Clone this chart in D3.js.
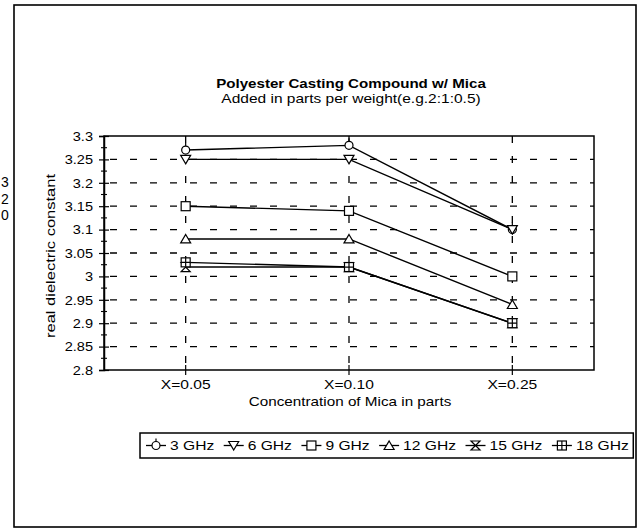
<!DOCTYPE html>
<html><head><meta charset="utf-8">
<script src="https://cdn.jsdelivr.net/npm/d3@7"></script>
<style>
body{margin:0;background:#fff;}
svg{display:block;}
text{font-family:"Liberation Sans",Arial,sans-serif;fill:#000;}
</style></head>
<body>
<svg id="c" width="644" height="532"></svg>
<script>
const categories = ["X=0.05","X=0.10","X=0.25"];
const seriesNames = ["3 GHz","6 GHz","9 GHz","12 GHz","15 GHz","18 GHz"];
const v3  = [3.27, 3.28, 3.10];
const v6  = [3.25, 3.25, 3.10];
const v9  = [3.15, 3.14, 3.00];
const v12 = [3.08, 3.08, 2.94];
const v15 = [3.02, 3.02, 2.90];
const v18 = [3.03, 3.02, 2.90];
const yTicks = [2.8,2.85,2.9,2.95,3,3.05,3.1,3.15,3.2,3.25,3.3];
const symbols = ["circle","triDown","square","triUp","bowtie","crossSquare"];
const title = "Polyester Casting Compound w/ Mica";
const subtitle = "Added in parts per weight(e.g.2:1:0.5)";
const xTitle = "Concentration of Mica in parts";
const yTitle = "real dielectric constant";
const edgeText = ["3","2","0"];

const series = [v3,v6,v9,v12,v15,v18].map((vals,i)=>({name:seriesNames[i],sym:symbols[i],vals}));

const svg = d3.select("#c");

function txt(g, x, y, s, size, anchor, sx, weight){
  const t = g.append("text")
    .attr("transform",`translate(${x},${y}) scale(${sx},1)`)
    .attr("font-size",size).attr("text-anchor",anchor||"start")
    .text(s);
  if(weight) t.attr("font-weight",weight);
  return t;
}

// outer frame
svg.append("rect").attr("x",14).attr("y",5).attr("width",622).attr("height",522)
  .attr("fill","none").attr("stroke","#000").attr("stroke-width",1.6);

// left edge characters (from the scanned page)
edgeText.forEach((d,i)=>{
  svg.append("text").attr("x",1).attr("y",187+i*16.5).attr("font-size",14).text(d);
});

const L=104, R=594, T=136, B=370;
const x = d3.scaleBand().domain(categories).range([L,R]).padding(0);
const xc = d => x(d)+x.bandwidth()/2;
const y = d3.scaleLinear().domain([2.8,3.3]).range([B,T]);

// titles
txt(svg, 351, 88, title, 12.2, "middle", 1.24, "bold");
txt(svg, 351, 103, subtitle, 12.5, "middle", 1.24);

// gridlines
const grid = svg.append("g");
grid.selectAll("line.h").data(yTicks.filter(d=>d>2.8+1e-9 && d<3.3-1e-9)).join("line")
  .attr("x1",L).attr("x2",R).attr("y1",d=>y(d)).attr("y2",d=>y(d))
  .attr("stroke","#000").attr("stroke-width",1.3).attr("stroke-dasharray","7,13").attr("stroke-dashoffset",-6);
grid.selectAll("line.v").data(categories).join("line")
  .attr("x1",d=>xc(d)).attr("x2",d=>xc(d)).attr("y1",T).attr("y2",B)
  .attr("stroke","#000").attr("stroke-width",1.3).attr("stroke-dasharray","7,13");

// plot box
svg.append("rect").attr("x",L).attr("y",T).attr("width",R-L).attr("height",B-T)
  .attr("fill","none").attr("stroke","#000").attr("stroke-width",1.5);

// y axis
const yAxis = d3.axisLeft(y).tickValues(yTicks).tickSize(5).tickFormat(d3.format("~g"));
const ya = svg.append("g").attr("transform",`translate(${L},0)`).call(yAxis);
ya.select(".domain").attr("stroke-width",1.5);
ya.selectAll(".tick line").attr("x2",-5).attr("x1",5).attr("stroke-width",1.2);
ya.selectAll(".tick text").remove();
yTicks.forEach(t=>txt(svg, L-11, y(t)+4.8, d3.format("~g")(t), 13, "end", 1.12));
// minor ticks
const minor = d3.range(0,20).map(i=>2.8+0.025*(2*i+1)).filter(v=>v<3.3);
svg.append("g").selectAll("line").data(minor).join("line")
  .attr("x1",L-3).attr("x2",L+3).attr("y1",d=>y(d)).attr("y2",d=>y(d))
  .attr("stroke","#000").attr("stroke-width",1.1);

// x axis
const xAxis = d3.axisBottom(x).tickSize(0);
const xa = svg.append("g").attr("transform",`translate(0,${B})`).call(xAxis);
xa.select(".domain").remove();
xa.selectAll(".tick text").remove();
categories.forEach(c=>{
  svg.append("line").attr("x1",xc(c)).attr("x2",xc(c)).attr("y1",B-5).attr("y2",B+5)
    .attr("stroke","#000").attr("stroke-width",1.2);
  txt(svg, xc(c), B+19, c, 12.5, "middle", 1.25);
});
txt(svg, 350, 406, xTitle, 12.5, "middle", 1.22);
svg.append("text").attr("transform",`translate(55,${(T+B)/2+3}) rotate(-90) scale(1.32,1)`)
  .attr("font-size",12.5).attr("text-anchor","middle").text(yTitle);

// markers
function drawSym(g, sym, cx, cy){
  const s=4.5;
  const st = {fill:"#fff",stroke:"#000","stroke-width":1.2};
  let el;
  if(sym==="circle"){
    el=g.append("circle").attr("cx",cx).attr("cy",cy).attr("r",4);
    g.append("line").attr("x1",cx).attr("x2",cx).attr("y1",cy-7).attr("y2",cy-4).attr("stroke","#000").attr("stroke-width",1.2);
  } else if(sym==="square"){
    el=g.append("rect").attr("x",cx-s).attr("y",cy-s).attr("width",2*s).attr("height",2*s);
  } else if(sym==="triUp"){
    el=g.append("path").attr("d",`M${cx},${cy-s}L${cx+s+0.5},${cy+s-0.5}L${cx-s-0.5},${cy+s-0.5}Z`);
  } else if(sym==="triDown"){
    el=g.append("path").attr("d",`M${cx},${cy+s}L${cx+s+0.5},${cy-s+0.5}L${cx-s-0.5},${cy-s+0.5}Z`);
  } else if(sym==="bowtie"){
    el=g.append("path").attr("d",`M${cx-s},${cy-s}L${cx+s},${cy-s}L${cx-s},${cy+s}L${cx+s},${cy+s}Z`);
  } else if(sym==="crossSquare"){
    el=g.append("rect").attr("x",cx-s).attr("y",cy-s).attr("width",2*s).attr("height",2*s);
    g.append("path").attr("d",`M${cx-s},${cy}H${cx+s}M${cx},${cy-s}V${cy+s}`).attr("stroke","#000").attr("stroke-width",1.2);
  }
  Object.entries(st).forEach(([k,v])=>el.attr(k,v));
}

const line = d3.line().x((d,i)=>xc(categories[i])).y(d=>y(d));
const plot = svg.append("g");
series.forEach(s=>{
  plot.append("path").attr("d",line(s.vals)).attr("fill","none").attr("stroke","#000").attr("stroke-width",1.4);
});
series.forEach(s=>{
  const g = plot.append("g");
  s.vals.forEach((v,i)=>drawSym(g, s.sym, xc(categories[i]), y(v)));
});

// legend
const lg = svg.append("g");
const lx0=140, ly0=433, lh=25;
const box = lg.append("rect").attr("x",lx0).attr("y",ly0).attr("height",lh)
  .attr("fill","#fff").attr("stroke","#000").attr("stroke-width",1.5);
let cx = lx0+6;
const LSX=1.25;
series.forEach(s=>{
  const g = lg.append("g");
  g.append("line").attr("x1",cx).attr("x2",cx+20).attr("y1",ly0+lh/2).attr("y2",ly0+lh/2).attr("stroke","#000").attr("stroke-width",1.3);
  drawSym(g, s.sym, cx+10, ly0+lh/2);
  const t = txt(g, cx+24, ly0+lh/2+4.6, s.name, 12.5, "start", LSX);
  const w = t.node().getComputedTextLength()*LSX;
  cx += 24 + w + 9.5;
});
box.attr("width", cx - lx0 - 5);
</script>
</body></html>
